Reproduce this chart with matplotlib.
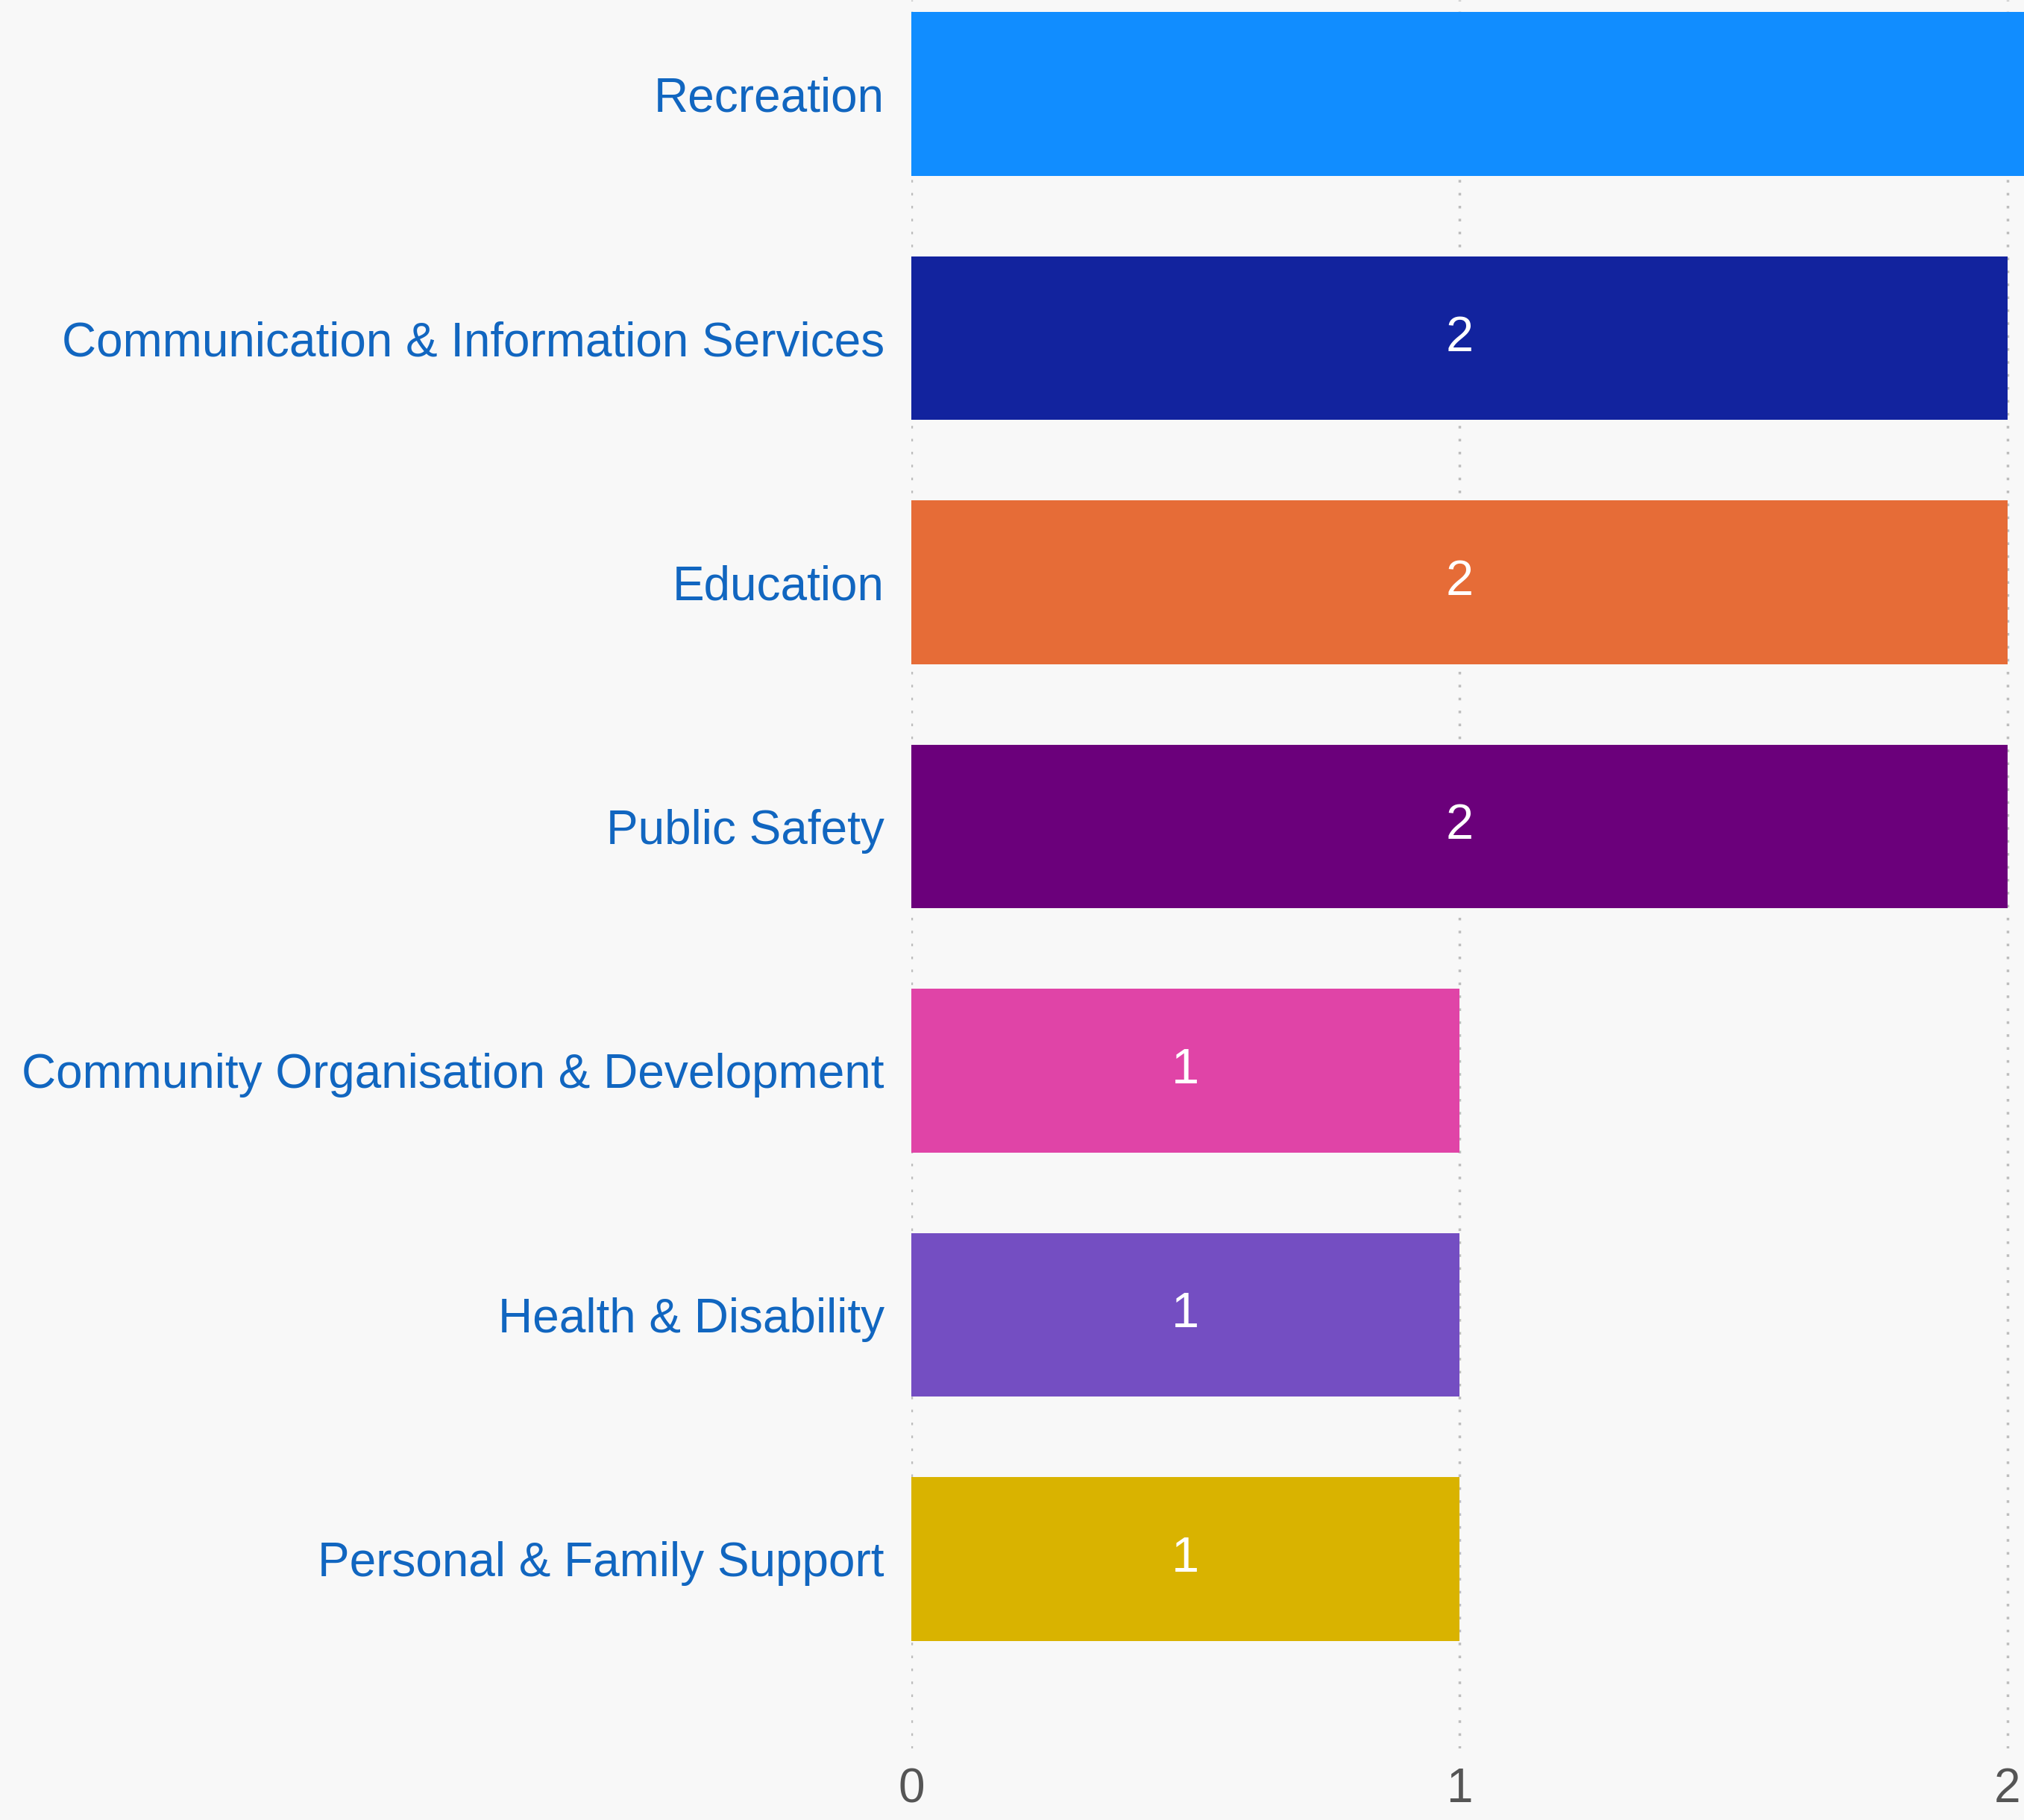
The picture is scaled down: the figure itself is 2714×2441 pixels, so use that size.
import matplotlib
import matplotlib.pyplot as plt

matplotlib.use("agg")

categories = [
    "Recreation",
    "Communication & Information Services",
    "Education",
    "Public Safety",
    "Community Organisation & Development",
    "Health & Disability",
    "Personal & Family Support",
]
counts = [5, 2, 2, 2, 1, 1, 1]
bar_colors = ["#118DFF", "#12239E", "#E66C37", "#6B007B", "#E044A7", "#744EC2", "#D9B300"]
x_ticks = [0, 1, 2]

bg = "#f8f8f8"
plt.rcParams["font.family"] = ["Liberation Sans", "DejaVu Sans"]

fig = plt.figure(figsize=(27.14, 24.41), dpi=100, facecolor=bg)
# axes run to the right edge of the figure; the view stops just past 2
ax = fig.add_axes([1222 / 2714, 1 - 2345 / 2441, 1492 / 2714, 2345 / 2441])
ax.set_facecolor(bg)
xmax = 2 * 1492 / 1470

ypos = list(range(len(categories)))
ax.barh(ypos, counts, height=0.67, color=bar_colors, zorder=2)

for y, v in zip(ypos, counts):
    if v / 2 < xmax:
        ax.text(v / 2, y, str(v), color="white", fontsize=48, ha="center", va="center",
                zorder=3)

ax.set_xlim(0, xmax)
ax.set_ylim(6.776, -0.385)
ax.set_yticks(ypos)
ax.set_yticklabels(categories, fontsize=46, color="#1166C0")
ax.set_xticks(x_ticks)
ax.set_xticklabels([str(t) for t in x_ticks], fontsize=46, color="#555555")
ax.tick_params(axis="y", length=0, pad=26)
ax.tick_params(axis="x", length=0, pad=18)
ax.grid(axis="x", linestyle=(0, (1, 4)), color="#bdbdbd", linewidth=2.5, zorder=0)
for s in ax.spines.values():
    s.set_visible(False)

fig.savefig("out.png", dpi=100, facecolor=bg)
